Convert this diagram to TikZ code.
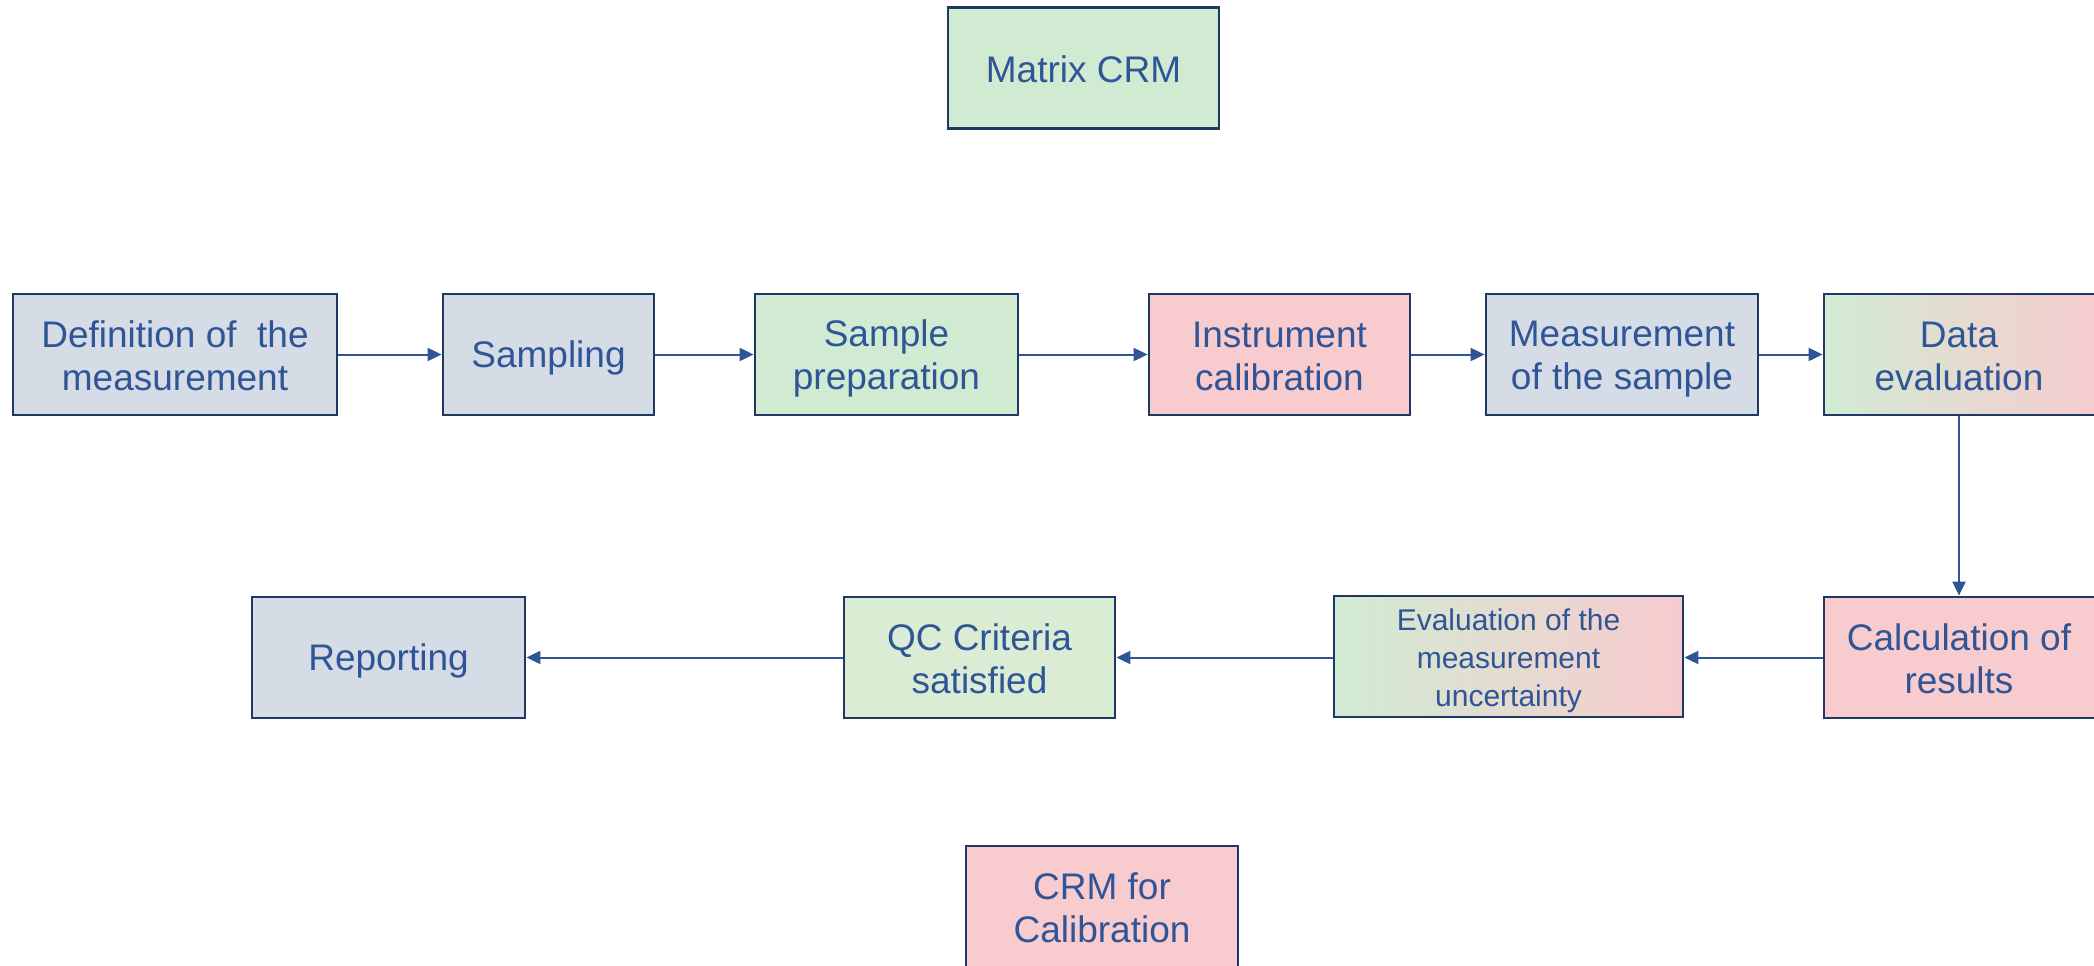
\documentclass[tikz,border=0pt]{standalone}
\usepackage{fontspec}
\setmainfont{Liberation Sans}
\usetikzlibrary{arrows.meta}
\definecolor{edge}{RGB}{31,56,100}
\definecolor{ink}{RGB}{47,85,151}
\definecolor{linkblue}{RGB}{47,85,151}
\definecolor{slate}{RGB}{214,220,229}
\definecolor{mint}{RGB}{209,235,211}
\definecolor{mintqc}{RGB}{218,237,212}
\definecolor{rose}{RGB}{248,203,206}
% invisible struts so that every first and last line has the same ascent and descent
\newcommand{\bx}{\rule[-0.162em]{0pt}{1.092em}}
\newcommand{\bxs}{\rule[-0.14em]{0pt}{1.17em}}
\tikzset{
  box/.style={draw=edge, line width=2.8pt, text=ink, align=center,
    minimum height=121pt, inner sep=0pt,
    font=\fontsize{37}{43.4}\selectfont},
  smalltext/.style={font=\fontsize{30}{38}\selectfont},
  slatebox/.style={box, fill=slate},
  mintbox/.style={box, fill=mint},
  rosebox/.style={box, fill=rose},
  blendbox/.style={box, left color=mint, right color=rose},
  link/.style={draw=linkblue, line width=2pt, -{Triangle[length=14pt,width=13pt]}}
}
\begin{document}
\begin{tikzpicture}[x=1pt,y=-1pt]
\useasboundingbox (0,0) rectangle (2094,966);
\fill[white] (0,0) rectangle (2094,966);

% reference materials
\node[mintbox, minimum width=271pt] (matrix) at (1083.5,68) {\bx Matrix CRM\bx};
\node[rosebox, minimum width=272pt] (crmcal) at (1102,906.5) {\bx CRM for\\Calibration\bx};

% upper row of the workflow
\node[slatebox, minimum width=324pt] (def) at (175,354.5) {\bx Definition of~~the\\measurement\bx};
\node[slatebox, minimum width=211pt] (samp) at (548.5,354.5) {\bx Sampling\bx};
\node[mintbox, minimum width=263pt] (prep) at (886.5,354.5) {\bx Sample\\preparation\bx};
\node[rosebox, minimum width=261pt] (instr) at (1279.5,354.5) {\bx Instrument\\calibration\bx};
\node[slatebox, minimum width=272pt] (meas) at (1622,354.5) {\bx Measurement\\of the sample\bx};
% the right-hand column runs past the right margin
\node[blendbox, minimum width=284pt] (data) at (1966,354.5) {\bx\hspace*{-14pt}Data\\\hspace*{-14pt}evaluation\bx};

% lower row of the workflow
\node[rosebox, minimum width=284pt] (calc) at (1966,657.5) {\bx\hspace*{-14pt}Calculation of\\\hspace*{-14pt}results\bx};
\node[blendbox, smalltext, minimum width=349pt] (unc) at (1508.5,656.5) {\bxs Evaluation of the\\measurement\\uncertainty\bxs};
\node[box, fill=mintqc, minimum width=271pt] (qc) at (979.5,657.5) {\bx QC Criteria\\satisfied\bx};
\node[slatebox, minimum width=273pt] (rep) at (388.5,657.5) {\bx Reporting\bx};

% connectors
\draw[link] (def) -- (samp);
\draw[link] (samp) -- (prep);
\draw[link] (prep) -- (instr);
\draw[link] (instr) -- (meas);
\draw[link] (meas) -- (data);
\draw[link] ([xshift=-7pt]data.south) -- ([xshift=-7pt]calc.north);
\draw[link] (calc.west) -- (unc.east |- calc.west);
\draw[link] (unc.west |- qc.east) -- (qc.east);
\draw[link] (qc) -- (rep);
\end{tikzpicture}
\end{document}
